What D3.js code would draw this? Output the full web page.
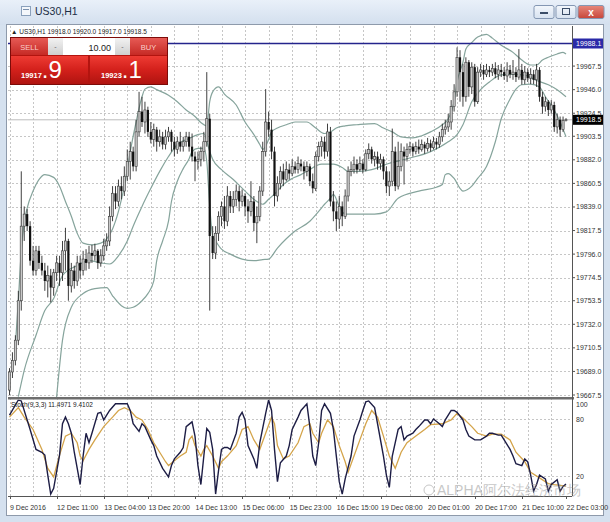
<!DOCTYPE html>
<html><head><meta charset="utf-8">
<script src="https://cdn.jsdelivr.net/npm/d3@7/dist/d3.min.js"></script>
<style>
html,body{margin:0;padding:0;background:#fff;}
svg{display:block;font-family:"Liberation Sans",Arial,sans-serif;}
</style></head><body>
<svg id="c" width="610" height="522"></svg>
<script>
// ---------------- data ----------------
const OPEN=[19672,19688.5,19699,19717.5,19753.5,19821.5,19832.5,19821.5,19790,19781,
19799,19788,19781,19771.5,19776.5,19765.5,19779,19788,19779,19799,
19808,19767,19781,19771.5,19788,19781,19791.5,19788,19797,19794.5,
19799,19788,19794.5,19803.5,19808,19830.5,19851.5,19844,19858,19853.5,
19867,19880.5,19889.5,19876,19907.5,19926,19916.5,19927.5,19907.5,19900.5,
19909.5,19898.5,19903,19896,19903,19907.5,19898.5,19891.5,19898.5,19894,
19898.5,19903,19894,19885,19880.5,19882.5,19889.5,19898.5,19919.5,19812.5,
19797,19815,19830.5,19839.5,19826,19849,19839.5,19846,19853.5,19844,
19849,19839.5,19835,19844,19824.5,19830.5,19853.5,19889.5,19916.5,19909.5,
19889.5,19849,19860.5,19871.5,19864,19873,19869.5,19876,19873,19878.5,
19876,19871.5,19876,19862.5,19856,19885,19894,19898.5,19889.5,19907.5,
19844,19835,19828,19839.5,19830.5,19849,19871.5,19873,19878,19873,
19878.5,19873,19887.5,19891.5,19882.5,19885,19878.5,19882.5,19871.5,19858,
19862.5,19889.5,19858,19876,19889.5,19885,19891.5,19894,19889.5,19894,
19891.5,19896,19892.5,19897,19893,19898.5,19896,19903,19909.5,19912,
19916.5,19930.5,19944,19975.5,19962,19939.5,19971,19948.5,19966.5,19935,
19962,19964,19960,19964,19962,19965.5,19960,19964,19962,19958.5,
19964,19960,19962,19957.5,19964,19955,19962,19956.5,19960,19955,
19964,19939.5,19930.5,19935,19927.5,19932,19912,19918.5,19909.5,19918];
const HIGH=[19692,19706.5,19722,19762.5,19871.5,19839.5,19837,19826,19803.5,19803.5,
19803.5,19794.5,19788,19785.5,19782.5,19782.5,19794.5,19794.5,19808,19820,
19810,19788,19785.5,19794.5,19794.5,19799,19800.5,19803.5,19804.5,19805.5,
19800.5,19800.5,19810,19815,19839.5,19858,19858,19864,19867,19876,
19891.5,19898.5,19894,19918.5,19944,19939.5,19935,19930.5,19916.5,19915,
19912,19909.5,19907.5,19909.5,19912,19909.5,19903,19903,19907.5,19903,
19907.5,19907.5,19906,19889.5,19889.5,19894,19907.5,19962,19924,19821.5,
19821.5,19835,19844,19849,19858,19853.5,19853.5,19859.5,19858,19855,
19851.5,19846,19862.5,19849,19839.5,19858,19898.5,19946.5,19926,19918.5,
19894,19867,19876,19878.5,19880.5,19878.5,19882.5,19880.5,19885,19882.5,
19880.5,19880.5,19878.5,19869.5,19889.5,19898.5,19903,19903,19915,19912,
19853.5,19844,19849,19844,19855,19876,19880.5,19885,19882.5,19885,
19882.5,19891.5,19897,19894,19889.5,19889.5,19887.5,19885,19876,19871.5,
19910.5,19894,19898.5,19897,19894,19897,19898.5,19897,19898.5,19900.5,
19900.5,19898.5,19902,19900.5,19903,19902,19907.5,19915,19918.5,19924,
19936.5,19951,19984.5,19982,19969.5,19975.5,19973,19971,19969.5,19966.5,
19969.5,19968.5,19969.5,19967.5,19969.5,19971,19968.5,19969.5,19966.5,19971,
19968.5,19973,19966.5,19983,19969.5,19967.5,19965.5,19965.5,19964,19969.5,
19966.5,19944,19939.5,19936.5,19936.5,19935,19924,19921.5,19921.5,19920];
const LOW=[19667.5,19683,19694.5,19713,19744.5,19808,19817,19785.5,19776.5,19776.5,
19782.5,19776.5,19762.5,19756.5,19752,19758,19771.5,19767,19771.5,19781,
19753.5,19761,19764.5,19767,19773.5,19776.5,19781,19782.5,19788,19790,
19782.5,19784.5,19790,19799,19803.5,19826,19837,19839.5,19846,19849,
19862.5,19864,19871.5,19871.5,19903,19912,19906,19903,19897,19894,
19889.5,19894,19891.5,19891.5,19898.5,19889.5,19885,19887.5,19889.5,19889.5,
19894,19889.5,19880.5,19862.5,19873,19876,19880.5,19894,19744.5,19791.5,
19791.5,19808,19821.5,19819,19821.5,19833.5,19833.5,19839.5,19835,19839.5,
19830.5,19824.5,19830.5,19817,19806,19826,19849,19885,19903,19882.5,
19839.5,19844,19855,19858,19862.5,19864,19867,19869.5,19869.5,19871.5,
19864,19867,19858,19851.5,19853.5,19880.5,19885,19883,19885,19839.5,
19826,19817,19819,19821.5,19828,19844,19867,19869.5,19869.5,19871.5,
19869.5,19871.5,19882.5,19878.5,19876,19873,19873,19864,19851.5,19849,
19858,19853.5,19855,19871.5,19859.5,19880.5,19887.5,19885,19887,19887.5,
19889.5,19887.5,19889.5,19889.5,19891.5,19891.5,19893,19898.5,19905,19907.5,
19909.5,19926,19939.5,19935,19930.5,19935,19939.5,19942,19930.5,19933,
19957.5,19955,19957.5,19957.5,19958.5,19956.5,19955,19957.5,19955,19953,
19956.5,19955,19953,19955,19950.5,19951,19953,19951,19951,19948.5,
19935,19924,19926,19922,19924,19907.5,19906,19903,19907.5,19917];
const CLOSE=[19688.5,19699,19717.5,19753.5,19821.5,19832.5,19821.5,19790,19781,19799,
19788,19781,19771.5,19776.5,19765.5,19779,19788,19779,19799,19808,
19767,19781,19771.5,19788,19781,19791.5,19788,19797,19794.5,19799,
19788,19794.5,19803.5,19808,19830.5,19851.5,19844,19858,19853.5,19867,
19880.5,19889.5,19876,19907.5,19926,19916.5,19927.5,19907.5,19900.5,19909.5,
19898.5,19903,19896,19903,19907.5,19898.5,19891.5,19898.5,19894,19898.5,
19903,19894,19885,19880.5,19882.5,19889.5,19898.5,19919.5,19812.5,19797,
19815,19830.5,19839.5,19826,19849,19839.5,19846,19853.5,19844,19849,
19839.5,19835,19844,19824.5,19830.5,19853.5,19889.5,19916.5,19909.5,19889.5,
19849,19860.5,19871.5,19864,19873,19869.5,19876,19873,19878.5,19876,
19871.5,19876,19862.5,19856,19885,19894,19898.5,19889.5,19907.5,19844,
19835,19828,19839.5,19830.5,19849,19871.5,19873,19878,19873,19878.5,
19873,19887.5,19891.5,19882.5,19885,19878.5,19882.5,19871.5,19858,19862.5,
19889.5,19858,19876,19889.5,19885,19891.5,19894,19889.5,19894,19891.5,
19896,19892.5,19897,19893,19898.5,19896,19903,19909.5,19912,19916.5,
19930.5,19944,19975.5,19962,19939.5,19971,19948.5,19966.5,19935,19962,
19964,19960,19964,19962,19965.5,19960,19964,19962,19958.5,19964,
19960,19962,19957.5,19964,19955,19962,19956.5,19960,19955,19964,
19939.5,19930.5,19935,19927.5,19932,19912,19918.5,19909.5,19918,19918.5];

// Bollinger Bands (20,2): [bar index, price]
const bbUpper=[[2,19713],[3,19753.5],[4,19799],[5,19824.5],[6,19838],[8,19853.5],[10,19864],[12,19868.5],[15,19866],[17,19858],[19,19844],[21,19830.5],[23,19815],[25,19806],[28,19804.5],[31,19806],[33,19810],[35,19819],[37,19835],[39,19858],[41,19889.5],[43,19916.5],[45,19939.5],[46,19946.5],[48,19948.5],[50,19946],[54,19941],[57,19935],[60,19927.5],[63,19921.5],[65,19916],[67,19913],[68,19935],[69,19944],[71,19948.5],[73,19942],[77,19932],[80,19916.5],[83,19905],[85,19896],[86,19891.5],[88,19900.5],[89,19907.5],[91,19911],[94,19914],[97,19916.5],[101,19916.5],[104,19911],[107,19906],[109,19907.5],[111,19911],[114,19913],[118,19914],[124,19915],[127,19911],[130,19907.5],[133,19903],[137,19902],[140,19904],[143,19907.5],[147,19914],[149,19919.5],[151,19935],[152,19953],[154,19971],[155,19983],[157,19989],[159,19994],[162,19996.5],[164,19993],[167,19986.5],[171,19980],[174,19973],[177,19968.5],[179,19968.5],[181,19973],[183,19975.5],[186,19978.5],[188,19980],[189,19978.5]];
const bbMiddle=[[3,19666],[5,19690],[9,19722],[12,19744.5],[15,19755.5],[18,19776.5],[23,19785.5],[27,19790],[31,19788],[34,19787],[37,19794.5],[40,19808],[42,19821.5],[45,19839.5],[48,19856],[51,19871.5],[54,19885],[57,19896],[61,19901.5],[64,19905],[66,19906],[68,19889.5],[69,19882.5],[72,19873],[76,19864],[80,19853.5],[84,19844],[86,19841.5],[88,19846],[91,19853.5],[93,19859.5],[96,19865],[99,19868.5],[101,19871.5],[106,19878],[110,19878],[113,19875],[115,19871.5],[119,19871.5],[123,19873],[128,19878],[135,19883],[143,19889.5],[149,19898.5],[152,19905],[154,19914],[157,19935],[160,19946],[163,19953],[167,19959.5],[172,19960],[176,19958.5],[178,19955.5],[183,19950.5],[186,19946],[189,19939.5]];
const bbLower=[[16,19665.5],[18,19717.5],[21,19747.5],[25,19760],[29,19764.5],[33,19765.5],[35,19758],[38,19749],[40,19746.5],[42,19747.5],[45,19753.5],[47,19760],[49,19771.5],[50,19790],[52,19808],[54,19826],[55,19844],[57,19862.5],[59,19874],[61,19883],[62,19889.5],[64,19892.5],[66,19892.5],[67,19880.5],[68,19839.5],[69,19812.5],[70,19808],[72,19800.5],[75,19796],[79,19791.5],[83,19790],[86,19791],[88,19791.5],[91,19801.5],[94,19810],[97,19817],[102,19826],[105,19835],[107,19841.5],[109,19847],[110,19850.5],[112,19839.5],[114,19832.5],[118,19832.5],[124,19832.5],[128,19834.5],[132,19847],[139,19853.5],[145,19857],[147,19859.5],[148,19868.5],[149,19869.5],[151,19865],[153,19856],[154,19853.5],[157,19858],[159,19865],[162,19876],[165,19898.5],[167,19919.5],[170,19937.5],[172,19946.5],[174,19950.5],[177,19951],[180,19948.5],[182,19939.5],[185,19927.5],[187,19916.5],[189,19903]];

// Stochastic (9,3,3): [bar index, value]
const stochK=[[0,84],[3,100],[4,99],[7,69],[9,48],[11,45],[12,42],[13,21],[14,1],[15,7],[17,42],[18,75],[19,82],[20,75],[21,65],[22,45],[24,11],[25,41],[26,65],[27,55],[28,65],[30,86],[31,87],[32,79],[34,89],[36,96],[38,96],[40,96],[41,89],[42,75],[44,67],[45,75],[46,72],[48,58],[49,52],[50,41],[52,28],[54,19],[55,31],[56,38],[58,45],[59,50],[60,72],[62,77],[63,62],[64,31],[65,11],[66,41],[67,70],[68,66],[69,48],[70,1],[71,26],[72,48],[73,50],[74,50],[75,48],[77,65],[78,82],[79,87],[80,79],[81,52],[83,38],[84,28],[85,55],[87,86],[88,100],[89,89],[90,48],[91,14],[92,34],[94,41],[95,52],[96,69],[98,82],[99,89],[101,96],[102,72],[103,41],[104,31],[105,55],[106,89],[107,96],[109,86],[110,69],[111,41],[112,14],[113,1],[114,17],[116,41],[117,62],[119,79],[120,89],[121,98],[122,99],[124,92],[125,75],[127,41],[128,21],[129,8],[130,41],[132,69],[133,72],[134,58],[135,62],[137,65],[138,69],[139,72],[141,79],[142,79],[143,75],[144,80],[146,75],[147,72],[148,79],[150,89],[151,89],[152,87],[154,79],[155,69],[156,62],[158,58],[160,58],[162,62],[163,65],[164,65],[166,63],[167,63],[168,58],[170,48],[171,41],[172,33],[174,31],[175,38],[176,35],[177,21],[178,4],[179,11],[180,21],[182,17],[183,4],[184,11],[186,16],[187,4],[188,9],[189,11.5]];
const stochD=[[0,82],[3,92],[5,82],[8,69],[11,48],[13,28],[15,19],[17,42],[19,62],[21,65],[23,55],[24,41],[25,36],[27,48],[29,58],[32,72],[35,82],[37,89],[39,92],[41,89],[43,82],[45,79],[47,69],[49,55],[51,45],[53,35],[54,31],[56,36],[58,41],[60,45],[61,58],[62,62],[63,52],[65,41],[66,48],[67,52],[69,41],[71,28],[72,35],[74,41],[77,52],[79,69],[81,72],[83,58],[85,48],[87,65],[89,82],[90,75],[91,52],[93,38],[95,41],[98,55],[100,72],[102,75],[103,65],[105,55],[106,65],[108,79],[110,72],[112,52],[114,35],[115,24],[117,41],[119,58],[121,75],[123,89],[125,82],[127,62],[129,41],[131,28],[133,45],[135,55],[138,62],[141,69],[143,74],[147,75],[150,79],[152,86],[154,81],[157,72],[159,65],[162,62],[164,64],[167,64],[170,58],[172,45],[175,35],[177,24],[180,18],[183,12],[185,11],[189,9.4]];

const priceTicks=[19967.5,19946.0,19924.5,19903.5,19882.0,19860.5,19839.0,19817.5,19796.0,19774.5,19753.5,19732.0,19710.5,19689.0,19667.5];
const timeLabels=["9 Dec 2016","12 Dec 11:00","13 Dec 04:00","13 Dec 20:00","14 Dec 13:00","15 Dec 06:00","15 Dec 23:00","16 Dec 15:00","19 Dec 08:00","20 Dec 01:00","20 Dec 17:00","21 Dec 10:00","22 Dec 03:00"];
const timeTickBars=[0,16,32,47,63,79,95,111,126,142,158,174,189];
const stochLevels=[80,20];
const stochAxisLabels=[100,80,20];
const hLinePrice=19988.1;
const bidPrice=19918.5;
const infoText="US30,H1  19918.0 19920.0 19917.0 19918.5";
const stochText="Stoch(9,3,3) 11.4971 9.4102";
const sellPrice=["19917",".9"], buyPrice=["19923",".1"], lotText="10.00";

// ---------------- layout ----------------
const svg=d3.select("#c");
const L=8, R=572, mTop=26, mBot=397, sTop=399.5, sBot=496;
const x=d3.scaleLinear().domain([0,189]).range([9.5,566]);
const y=d3.scaleLinear().domain([19667.5,19988.1]).range([395,43.5]);
const ys=d3.scaleLinear().domain([0,100]).range([495,400]);

const defs=svg.append("defs");
function grad(id,stops){const g=defs.append("linearGradient").attr("id",id).attr("x1",0).attr("y1",0).attr("x2",0).attr("y2",1);
 stops.forEach(s=>g.append("stop").attr("offset",s[0]).attr("stop-color",s[1]));}
grad("gTitle",[[0,"#e9f0f9"],[1,"#d3dfee"]]);
grad("gRedBtn",[[0,"#e65a55"],[1,"#c62a25"]]);
grad("gRedBox",[[0,"#ee3b33"],[0.5,"#d3201b"],[1,"#b01410"]]);
grad("gGray",[[0,"#f2f2f2"],[1,"#cfcfcf"]]);
grad("gClose",[[0,"#e7887c"],[1,"#c7463a"]]);
grad("gBtn",[[0,"#f3f7fc"],[1,"#d7e2f0"]]);
defs.append("clipPath").attr("id","clipM").append("rect").attr("x",L).attr("y",mTop).attr("width",R-L).attr("height",mBot-mTop);
defs.append("clipPath").attr("id","clipS").append("rect").attr("x",L).attr("y",sTop).attr("width",R-L).attr("height",sBot-sTop);

// window frame
svg.append("rect").attr("width",610).attr("height",522).attr("fill","#d5e1ef");
svg.append("rect").attr("width",610).attr("height",25).attr("fill","url(#gTitle)");
// icon
svg.append("rect").attr("x",21.5).attr("y",6.5).attr("width",9).attr("height",9).attr("fill","#f4f7fb").attr("stroke","#8aa0bb");
svg.append("line").attr("x1",23).attr("x2",29).attr("y1",9.5).attr("y2",9.5).attr("stroke","#7a90ad");
svg.append("text").attr("x",35).attr("y",15).attr("font-size",10.5).attr("fill","#1c2d45").text("US30,H1");
// window buttons
[[534,20,"url(#gBtn)"],[556,20,"url(#gBtn)"],[578,26,"url(#gClose)"]].forEach(b=>{
 svg.append("rect").attr("x",b[0]).attr("y",5.5).attr("width",b[1]).attr("height",13).attr("rx",2).attr("fill",b[2]).attr("stroke","#8497b3");
});
svg.append("rect").attr("x",540).attr("y",12).attr("width",8).attr("height",2).attr("fill","#3b4d68");
svg.append("rect").attr("x",562.5).attr("y",8.5).attr("width",7).attr("height",6).attr("fill","none").attr("stroke","#3b4d68");
svg.append("text").attr("x",591).attr("y",16).attr("text-anchor","middle").attr("font-size",10).attr("font-weight","bold").attr("fill","#fff").text("x");

// chart area
svg.append("rect").attr("x",6.5).attr("y",24.5).attr("width",597).attr("height",491).attr("fill","#fff").attr("stroke","#8e9aab");

// grid
const grid=svg.append("g").attr("stroke","#c6c6c6").attr("stroke-width",1).attr("stroke-dasharray","2,2");
priceTicks.forEach(p=>grid.append("line").attr("x1",L).attr("x2",R).attr("y1",Math.round(y(p))+0.5).attr("y2",Math.round(y(p))+0.5));
const vBars=d3.range(0,190,8);
vBars.forEach(b=>grid.append("line").attr("x1",Math.round(x(b))+0.5).attr("x2",Math.round(x(b))+0.5).attr("y1",mTop).attr("y2",sBot));
stochLevels.forEach(v=>grid.append("line").attr("x1",L).attr("x2",R).attr("y1",Math.round(ys(v))+0.5).attr("y2",Math.round(ys(v))+0.5));

// main panel
const gM=svg.append("g").attr("clip-path","url(#clipM)");
// bid line
gM.append("line").attr("x1",L).attr("x2",R).attr("y1",y(bidPrice)).attr("y2",y(bidPrice)).attr("stroke","#bdbdbd").attr("stroke-width",1);
// bands
const bandLine=d3.line().x(d=>x(d[0])).y(d=>y(d[1])).curve(d3.curveMonotoneX);
[bbUpper,bbMiddle,bbLower].forEach(b=>gM.append("path").attr("d",bandLine(b)).attr("fill","none").attr("stroke","#86a49c").attr("stroke-width",1.2));
// candles
const bars=CLOSE.map((c,i)=>({i,o:OPEN[i],h:HIGH[i],l:LOW[i],c}));
gM.selectAll("line.w").data(bars).join("line").attr("class","w")
 .attr("x1",d=>x(d.i)).attr("x2",d=>x(d.i)).attr("y1",d=>y(d.h)).attr("y2",d=>y(d.l))
 .attr("stroke","#2a2a2a").attr("stroke-width",0.9);
gM.selectAll("rect.b").data(bars).join("rect").attr("class","b")
 .attr("x",d=>x(d.i)-1.1).attr("width",2.2)
 .attr("y",d=>y(Math.max(d.o,d.c))).attr("height",d=>Math.max(0.8,Math.abs(y(d.o)-y(d.c))))
 .attr("fill",d=>d.c>=d.o?"#c9c9c9":"#111").attr("stroke",d=>d.c>=d.o?"#3a3a3a":"none").attr("stroke-width",0.6);
// horizontal line object
gM.append("line").attr("x1",L).attr("x2",R).attr("y1",y(hLinePrice)).attr("y2",y(hLinePrice)).attr("stroke","#24248c").attr("stroke-width",1.6);

// stochastic panel
const gS=svg.append("g").attr("clip-path","url(#clipS)");
const sLine=d3.line().x(d=>x(d[0])).y(d=>ys(d[1]));
gS.append("path").attr("d",sLine(stochD)).attr("fill","none").attr("stroke","#d4a44a").attr("stroke-width",1.3);
gS.append("path").attr("d",sLine(stochK)).attr("fill","none").attr("stroke","#1d1d45").attr("stroke-width",1.4);

// separators and axes
svg.append("rect").attr("x",L).attr("y",mBot).attr("width",R-L+2).attr("height",2.5).attr("fill","#6e6e6e");
svg.append("line").attr("x1",R+0.5).attr("x2",R+0.5).attr("y1",mTop).attr("y2",sBot).attr("stroke","#555");
svg.append("line").attr("x1",L).attr("x2",R).attr("y1",sBot+0.5).attr("y2",sBot+0.5).attr("stroke","#555");

// price axis labels
const ax=svg.append("g").attr("font-size",7).attr("fill","#333");
priceTicks.forEach(p=>{
 ax.append("line").attr("x1",R).attr("x2",R+3).attr("y1",y(p)).attr("y2",y(p)).attr("stroke","#555");
 ax.append("text").attr("x",576).attr("y",y(p)+2.5).text(p.toFixed(1));
});
// marker boxes
function priceBox(p,fill){
 svg.append("rect").attr("x",R+1).attr("y",y(p)-5).attr("width",30).attr("height",10).attr("fill",fill);
 svg.append("text").attr("x",576).attr("y",y(p)+2.5).attr("font-size",7).attr("fill","#fff").text(p.toFixed(1));
}
priceBox(hLinePrice,"#2a2aa8");
priceBox(bidPrice,"#000");
// stochastic axis labels
stochAxisLabels.forEach(v=>ax.append("text").attr("x",576).attr("y",Math.max(ys(v)+3,407)).text(v));
// time labels
const tx=svg.append("g").attr("font-size",7).attr("fill","#333");
timeTickBars.forEach((b,k)=>{
 tx.append("line").attr("x1",Math.round(x(b))+0.5).attr("x2",Math.round(x(b))+0.5).attr("y1",sBot).attr("y2",sBot+3).attr("stroke","#555");
 tx.append("text").attr("x",x(b)+0.5).attr("y",510).text(timeLabels[k]);
});

// info texts
svg.append("text").attr("x",11).attr("y",34).attr("font-size",6.5).attr("fill","#222").text("▲ "+infoText);
svg.append("text").attr("x",11).attr("y",407).attr("font-size",6.5).attr("fill","#222").text(stochText);

// one-click trading panel
const tp=svg.append("g");
tp.append("rect").attr("x",10.5).attr("y",37.5).attr("width",157).attr("height",47).attr("fill","#b3140f").attr("stroke","#7d0b08");
tp.append("rect").attr("x",11).attr("y",38).attr("width",37).attr("height",17).attr("fill","url(#gRedBtn)");
tp.append("rect").attr("x",130).attr("y",38).attr("width",37).attr("height",17).attr("fill","url(#gRedBtn)");
tp.append("rect").attr("x",48).attr("y",38).attr("width",15).attr("height",17).attr("fill","url(#gGray)");
tp.append("rect").attr("x",115).attr("y",38).attr("width",15).attr("height",17).attr("fill","url(#gGray)");
tp.append("rect").attr("x",63).attr("y",38).attr("width",52).attr("height",17).attr("fill","#fff");
tp.append("text").attr("x",29.5).attr("y",50).attr("text-anchor","middle").attr("font-size",7.5).attr("fill","#f9cfcc").text("SELL");
tp.append("text").attr("x",148.5).attr("y",50).attr("text-anchor","middle").attr("font-size",7.5).attr("fill","#f9cfcc").text("BUY");
tp.append("text").attr("x",55.5).attr("y",49).attr("text-anchor","middle").attr("font-size",7).attr("fill","#666").text("-");
tp.append("text").attr("x",122.5).attr("y",49).attr("text-anchor","middle").attr("font-size",7).attr("fill","#666").text("-");
tp.append("text").attr("x",111).attr("y",50.5).attr("text-anchor","end").attr("font-size",9).attr("fill","#222").text(lotText);
tp.append("rect").attr("x",11).attr("y",56).attr("width",77).attr("height",28).attr("fill","url(#gRedBox)");
tp.append("rect").attr("x",90).attr("y",56).attr("width",77).attr("height",28).attr("fill","url(#gRedBox)");
function priceTxt(x0,parts){
 const t=tp.append("text").attr("x",x0).attr("y",78).attr("fill","#fff");
 t.append("tspan").attr("font-size",7.5).attr("font-weight","bold").text(parts[0]);
 t.append("tspan").attr("font-size",24).text(parts[1]);
}
priceTxt(21,sellPrice);
priceTxt(101,buyPrice);

// watermark
const wm=svg.append("g").attr("opacity",0.55);
wm.append("circle").attr("cx",429).attr("cy",490).attr("r",5).attr("fill","none").attr("stroke","#999");
wm.append("text").attr("x",437).attr("y",495).attr("font-size",14).attr("fill","#9a9a9a").text("ALPHA阿尔法经济市场");
</script>
</body></html>
